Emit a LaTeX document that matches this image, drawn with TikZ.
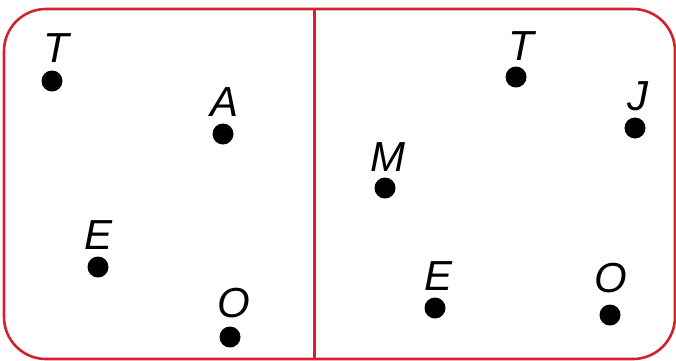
\documentclass[tikz,border=0pt]{standalone}
\usepackage{fontspec}
\setmainfont{Liberation Sans}
\definecolor{bred}{RGB}{210,35,45}
\begin{document}
\begin{tikzpicture}[x=1pt,y=-1pt,
  pt/.style={circle,fill=black,inner sep=0pt,minimum size=21pt},
  lab/.style={anchor=base,inner sep=0pt,font=\fontsize{42}{42}\selectfont\itshape},
  frame/.style={draw=bred,line width=2.6pt}]
\useasboundingbox (0,0) rectangle (676,360);
\draw[frame,rounded corners=42pt] (4,9) rectangle (675,359);
\coordinate (top) at (314.5,9);
\coordinate (bot) at (314.5,359);
\draw[frame] (top) -- (bot);
% left
\node[pt] (t1) at (52,81) {};
\node[pt] (a1) at (223,134) {};
\node[pt] (e1) at (98,267) {};
\node[pt] (o1) at (230,337) {};
\node[lab] (lt1) at (56,62) {T};
\node[lab] (la1) at (225,116) {A};
\node[lab] (le1) at (99,249) {E};
\node[lab] (lo1) at (234,317) {O};
% right
\node[pt] (t2) at (516,77) {};
\node[pt] (j2) at (635,128) {};
\node[pt] (m2) at (385,188) {};
\node[pt] (e2) at (435,308) {};
\node[pt] (o2) at (610,315) {};
\node[lab] (lt2) at (521,60) {T};
\node[lab] (lj2) at (638,110) {J};
\node[lab] (lm2) at (388,171) {M};
\node[lab] (le2) at (438,290) {E};
\node[lab] (lo2) at (611,292) {O};
\end{tikzpicture}
\end{document}
